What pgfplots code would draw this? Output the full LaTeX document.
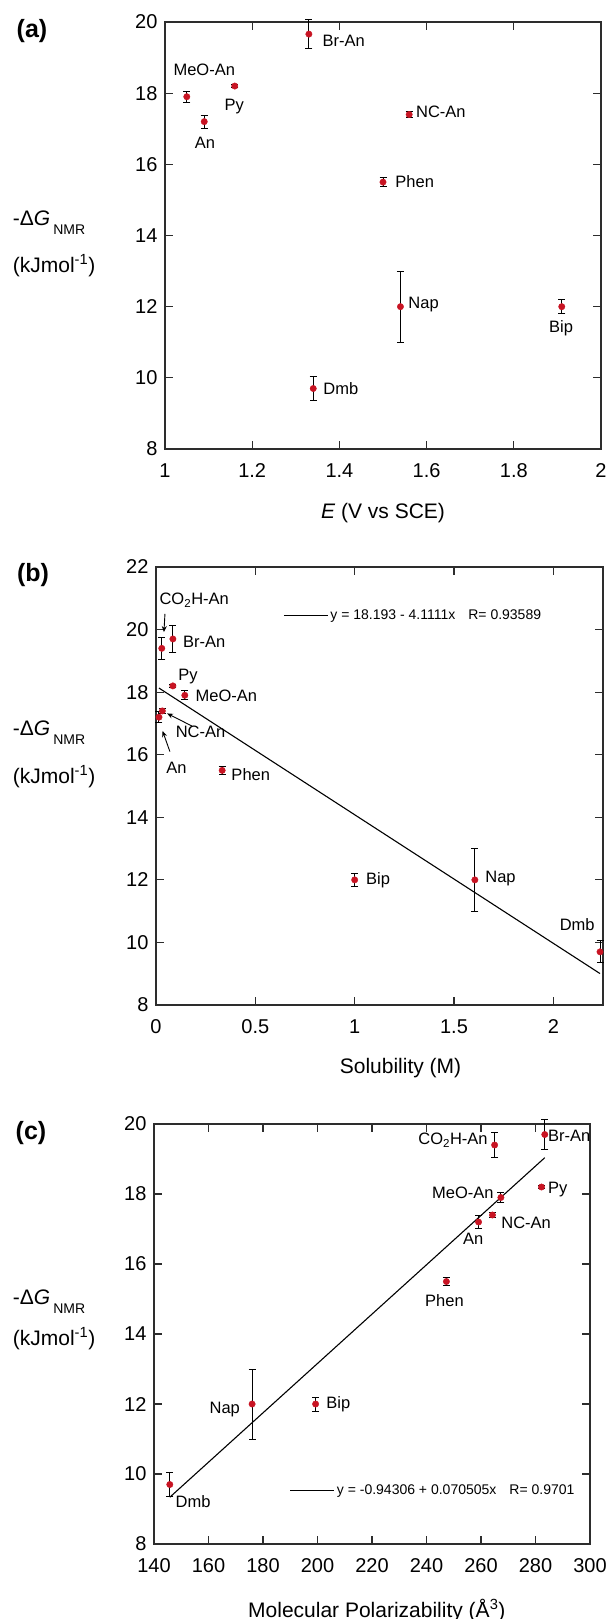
\documentclass[border=0pt]{standalone}
\usepackage{fontspec}
\setmainfont{Liberation Sans}
\usepackage{pgfplots}
\pgfplotsset{compat=1.18}
\usepackage{pgfplotstable}
\usetikzlibrary{arrows.meta}
\definecolor{dotred}{RGB}{200,20,35}
\definecolor{axc}{RGB}{45,45,45}
\newcommand{\fTick}{\fontsize{20}{24}\selectfont}
\newcommand{\fLab}{\fontsize{16.5}{19}\selectfont}
\newcommand{\fAx}{\fontsize{21}{25}\selectfont}
\newcommand{\fLeg}{\fontsize{14}{17}\selectfont}
\newcommand{\dG}{-Δ\textit{G}\hspace{3pt}\raisebox{-9pt}{\fontsize{14}{14}\selectfont NMR}}

\pgfplotstableread{
x y e
1.05 17.9 0.15
1.09 17.2 0.18
1.16 18.2 0.05
1.33 19.66 0.40
1.56 17.4 0.08
1.50 15.5 0.12
1.54 12.0 1.0
1.91 12.0 0.2
1.34 9.7 0.35
}\dataA

\pgfplotstableread{
x y e
0.029 19.4 0.36
0.085 19.7 0.42
0.085 18.2 0.05
0.145 17.9 0.15
0.032 17.4 0.08
0.015 17.2 0.18
0.333 15.5 0.12
1.0 12.0 0.2
1.605 12.0 1.0
2.235 9.7 0.35
}\dataB

\pgfplotstableread{
x y e
265.0 19.4 0.36
283.4 19.7 0.42
282.2 18.2 0.05
267.3 17.9 0.15
264.2 17.4 0.08
259.1 17.2 0.18
247.3 15.5 0.12
199.3 12.0 0.2
176.0 12.0 1.0
145.8 9.7 0.35
}\dataC

\tikzset{lbl/.style={font=\fLab, inner sep=0pt}}
\pgfplotsset{
  myax/.style={
    scale only axis, anchor=north west, clip=false,
    axis line style={line width=1.1pt, axc},
    tick style={line width=1.1pt, axc},
    tick align=inside, major tick length=8pt,
    ticklabel style={font=\fTick},
    /pgf/number format/assume math mode=true,
    xticklabel style={yshift=-11pt},
    yticklabel style={xshift=-4pt},
    label style={font=\fAx},
    legend style={draw=none, fill=none, font=\fLeg, inner sep=0pt},
    legend image code/.code={\draw[#1] (0pt,0pt) -- (44pt,0pt);},
  },
  pts/.style={only marks, mark=*, mark size=3.2pt, color=dotred,
    error bars/.cd, y dir=both, y explicit,
    error bar style={black, line width=1pt},
    error mark options={rotate=90, mark size=3.5pt, black, line width=1pt}},
}

\begin{document}
\begin{tikzpicture}
\path[use as bounding box] (0pt,0pt) rectangle (606pt,-1619pt);

% panel labels
\node[font=\bfseries\fontsize{25}{30}\selectfont] at (32pt,-31pt) {(a)};
\node[font=\bfseries\fontsize{25}{30}\selectfont] at (33pt,-575pt) {(b)};
\node[font=\bfseries\fontsize{25}{30}\selectfont] at (31pt,-1133pt) {(c)};

% y labels
\node[anchor=base west, font=\fAx, inner sep=0pt] at (12.7pt,-225.5pt) {\dG};
\node[anchor=base west, font=\fAx, inner sep=0pt] at (12.7pt,-272.5pt) {(kJmol\textsuperscript{-1})};
\node[anchor=base west, font=\fAx, inner sep=0pt] at (12.7pt,-735.5pt) {\dG};
\node[anchor=base west, font=\fAx, inner sep=0pt] at (12.7pt,-783.5pt) {(kJmol\textsuperscript{-1})};
\node[anchor=base west, font=\fAx, inner sep=0pt] at (12.7pt,-1304.5pt) {\dG};
\node[anchor=base west, font=\fAx, inner sep=0pt] at (12.7pt,-1345.5pt) {(kJmol\textsuperscript{-1})};

% ---------- (a)
\begin{axis}[myax, at={(165pt,-22pt)}, width=436pt, height=427pt,
  xmin=1, xmax=2, ymin=8, ymax=20,
  xtick={1,1.2,1.4,1.6,1.8,2}, ytick={8,10,12,14,16,18,20},
  xlabel={\textit{E} (V vs SCE)},
  xlabel style={at={(axis description cs:0.5,0)}, anchor=center, yshift=-64pt}]
\addplot[pts] table[x=x, y=y, y error=e] {\dataA};
\node[lbl, anchor=mid west] at (axis cs:1.361,19.39) {Br-An};
\node[lbl, anchor=mid] at (axis cs:1.09,18.56) {MeO-An};
\node[lbl, anchor=mid] at (axis cs:1.159,17.59) {Py};
\node[lbl, anchor=mid] at (axis cs:1.0915,16.53) {An};
\node[lbl, anchor=mid west] at (axis cs:1.5755,17.39) {NC-An};
\node[lbl, anchor=mid west] at (axis cs:1.528,15.43) {Phen};
\node[lbl, anchor=mid west] at (axis cs:1.558,12.01) {Nap};
\node[lbl, anchor=mid] at (axis cs:1.9085,11.35) {Bip};
\node[lbl, anchor=mid west] at (axis cs:1.363,9.62) {Dmb};
\end{axis}

% ---------- (b)
\begin{axis}[myax, at={(156pt,-567pt)}, width=447pt, height=438pt,
  xmin=0, xmax=2.25, ymin=8, ymax=22,
  xtick={0,0.5,1,1.5,2}, ytick={8,10,12,14,16,18,20,22},
  xlabel={Solubility (M)},
  xlabel style={at={(axis description cs:0.547,0)}, anchor=center, yshift=-63pt},
  legend style={at={(axis description cs:0.2844,0.890)}, anchor=west}]
\addplot[black, line width=1.1pt] coordinates {(0.015,18.131) (2.235,9.005)};
\addlegendentry{y = 18.193 - 4.1111x\hspace{13pt}R= 0.93589}
\addplot[forget plot, pts] table[x=x, y=y, y error=e] {\dataB};
\node[lbl, anchor=mid west] at (axis cs:0.017,20.88) {CO\textsubscript{2}H-An};
\draw[line width=0.9pt, -{Stealth[length=6pt,width=5pt]}] (axis cs:0.045,20.50) -- (axis cs:0.040,19.92);
\node[lbl, anchor=mid west] at (axis cs:0.1355,19.52) {Br-An};
\node[lbl, anchor=mid west] at (axis cs:0.112,18.46) {Py};
\node[lbl, anchor=mid west] at (axis cs:0.199,17.78) {MeO-An};
\node[lbl, anchor=mid west] at (axis cs:0.0987,16.64) {NC-An};
\draw[line width=0.9pt, -{Stealth[length=6pt,width=5pt]}] (axis cs:0.18,16.92) -- (axis cs:0.056,17.32);
\node[lbl, anchor=mid] at (axis cs:0.1026,15.50) {An};
\draw[line width=0.9pt, -{Stealth[length=6pt,width=5pt]}] (axis cs:0.07,16.10) -- (axis cs:0.033,16.76);
\node[lbl, anchor=mid west] at (axis cs:0.379,15.27) {Phen};
\node[lbl, anchor=mid west] at (axis cs:1.057,11.94) {Bip};
\node[lbl, anchor=mid west] at (axis cs:1.657,12.0) {Nap};
\node[lbl, anchor=mid] at (axis cs:2.12,10.48) {Dmb};
\end{axis}

% ---------- (c)
\begin{axis}[myax, at={(154pt,-1124pt)}, width=436pt, height=420pt,
  xmin=140, xmax=300, ymin=8, ymax=20,
  xtick={140,160,180,200,220,240,260,280,300}, ytick={8,10,12,14,16,18,20},
  xlabel={Molecular Polarizability (Å\textsuperscript{3})},
  xlabel style={at={(axis description cs:0.511,0)}, anchor=center, yshift=-66pt},
  legend style={at={(axis description cs:0.311,0.127)}, anchor=west}]
\addplot[black, line width=1.1pt] coordinates {(145.8,9.337) (283.4,19.038)};
\addlegendentry{y = -0.94306 + 0.070505x\hspace{13pt}R= 0.9701}
\addplot[forget plot, pts] table[x=x, y=y, y error=e] {\dataC};
\node[lbl, anchor=mid east] at (axis cs:262.5,19.49) {CO\textsubscript{2}H-An};
\node[lbl, anchor=mid west] at (axis cs:284.6,19.59) {Br-An};
\node[lbl, anchor=mid west] at (axis cs:284.6,18.10) {Py};
\node[lbl, anchor=mid east] at (axis cs:264.7,17.95) {MeO-An};
\node[lbl, anchor=mid west] at (axis cs:267.4,17.10) {NC-An};
\node[lbl, anchor=mid] at (axis cs:257.1,16.62) {An};
\node[lbl, anchor=mid] at (axis cs:246.6,14.86) {Phen};
\node[lbl, anchor=mid west] at (axis cs:203.2,11.95) {Bip};
\node[lbl, anchor=mid east] at (axis cs:171.6,11.81) {Nap};
\node[lbl, anchor=mid west] at (axis cs:147.9,9.12) {Dmb};
\end{axis}
\end{tikzpicture}
\end{document}
